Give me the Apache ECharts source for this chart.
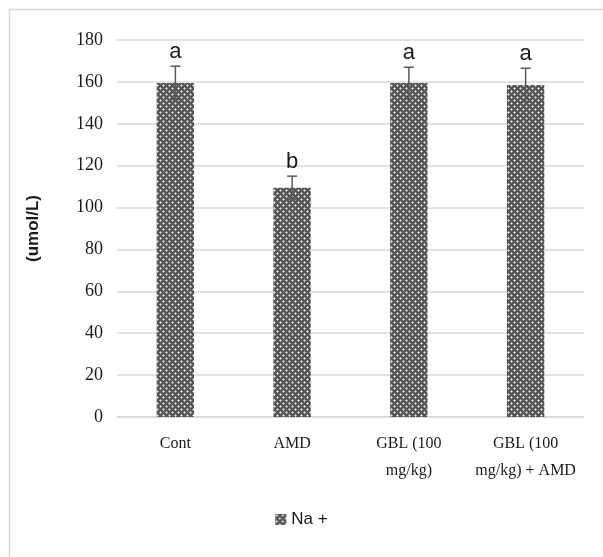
<!DOCTYPE html>
<html><head><meta charset="utf-8">
<script src="https://cdn.jsdelivr.net/npm/echarts@6/dist/echarts.min.js"></script>
<style>html,body{margin:0;padding:0;background:#fff}#c{width:603px;height:557px}</style>
</head><body><div id="c"></div>
<script>
var categories = ['Cont', 'AMD', 'GBL (100\nmg/kg)', 'GBL (100\nmg/kg) + AMD'];
var values = [159.5, 109.5, 159.5, 158.5];
var errors = [8, 5.5, 7.5, 8];
var letters = ['a', 'b', 'a', 'a'];
var yTicks = [0, 20, 40, 60, 80, 100, 120, 140, 160, 180];
var seriesName = 'Na +';

function makePattern() {
  var c = document.createElement('canvas');
  c.width = 6; c.height = 6;
  var g = c.getContext('2d');
  g.fillStyle = '#555555';
  g.fillRect(0, 0, 6, 6);
  g.fillStyle = '#e0e0e0';
  g.fillRect(1, 1, 1, 1);
  g.fillRect(4, 4, 1, 1);
  g.fillStyle = '#b0b0b0';
  g.fillRect(0, 1, 1, 1); g.fillRect(2, 1, 1, 1); g.fillRect(1, 0, 1, 1); g.fillRect(1, 2, 1, 1);
  g.fillRect(3, 4, 1, 1); g.fillRect(5, 4, 1, 1); g.fillRect(4, 3, 1, 1); g.fillRect(4, 5, 1, 1);
  return c;
}
var pat = { image: makePattern(), repeat: 'repeat' };

var chart = echarts.init(document.getElementById('c'), null, { renderer: 'canvas' });
var errData = values.map(function (v, i) { return [i, v, v + errors[i], v - errors[i]]; });

chart.setOption({
  animation: false,
  backgroundColor: '#fff',
  graphic: [{
    type: 'polyline', silent: true,
    shape: { points: [[9.5, 557], [9.5, 9.5], [603, 9.5]] },
    style: { stroke: '#d9d9d9', lineWidth: 1.5, fill: null }
  }],
  grid: { left: 117, right: 19, top: 40, bottom: 140 },
  legend: {
    bottom: 24, left: 'center', itemWidth: 11, itemHeight: 11, itemGap: 6,
    data: [{ name: seriesName, icon: 'rect' }],
    textStyle: { fontFamily: 'Liberation Sans, Arial, sans-serif', fontSize: 17, color: '#1a1a1a' }
  },
  xAxis: {
    type: 'category', data: categories,
    axisTick: { show: false },
    axisLine: { lineStyle: { color: '#d9d9d9', width: 1.5 } },
    axisLabel: { fontFamily: 'Liberation Serif, Times New Roman, serif', fontSize: 16, color: '#1a1a1a', lineHeight: 27, margin: 13, interval: 0 }
  },
  yAxis: {
    type: 'value', min: 0, max: 180, interval: 20,
    name: '(umol/L)', nameLocation: 'middle', nameGap: 75, nameRotate: 90,
    nameTextStyle: { fontFamily: 'Liberation Sans, Arial, sans-serif', fontSize: 17, fontWeight: 'bold', color: '#1a1a1a' },
    axisLine: { show: false }, axisTick: { show: false },
    splitLine: { lineStyle: { color: '#d9d9d9', width: 1.5 } },
    axisLabel: {
      fontFamily: 'Liberation Serif, Times New Roman, serif', fontSize: 18, color: '#1a1a1a', margin: 14,
      formatter: function (v) { return yTicks.indexOf(v) >= 0 ? String(v) : ''; }
    }
  },
  series: [{
    name: seriesName, type: 'bar', data: values, barWidth: '32%',
    itemStyle: { color: pat }
  }, {
    type: 'custom', data: errData, z: 10, silent: true,
    renderItem: function (params, api) {
      var x = api.value(0);
      var top = api.coord([x, api.value(2)]);
      var low = api.coord([x, api.value(3)]);
      var half = 5;
      var s = { stroke: '#595959', lineWidth: 1.5 };
      var i = params.dataIndex;
      return {
        type: 'group', children: [
          { type: 'line', shape: { x1: top[0], y1: top[1], x2: low[0], y2: low[1] }, style: s },
          { type: 'line', shape: { x1: top[0] - half, y1: top[1], x2: top[0] + half, y2: top[1] }, style: s },
          { type: 'line', shape: { x1: low[0] - half, y1: low[1], x2: low[0] + half, y2: low[1] }, style: s },
          { type: 'text', style: { text: letters[i], x: top[0], y: top[1] - 3, textAlign: 'center', textVerticalAlign: 'bottom',
            font: '22px "Liberation Sans", Arial, sans-serif', fill: '#1a1a1a' } }
        ]
      };
    }
  }]
});
</script></body></html>
